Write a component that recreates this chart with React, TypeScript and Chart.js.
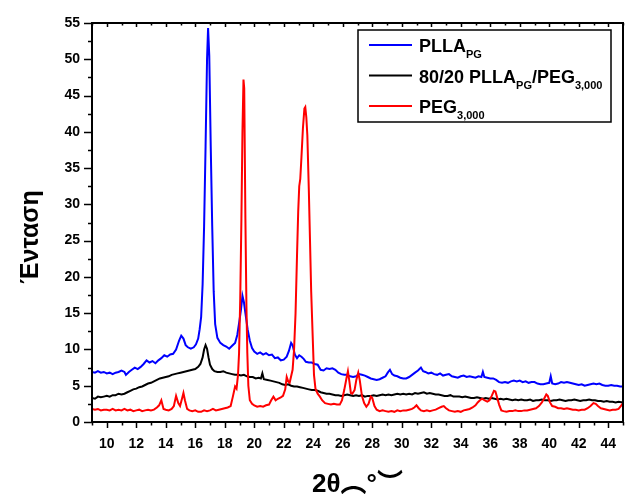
import React, { useEffect, useRef } from "react";
import { Chart, registerables } from "chart.js";

Chart.register(...registerables);

// 2θ range and intensity range of the diffractogram
const THETA_MIN = 9;
const THETA_MAX = 45;
const INTENSITY_MIN = 0;
const INTENSITY_MAX = 55;

// PLLA_PG pattern: [2θ, intensity]
const PLLA_PG: [number, number][] = [
  [9.0, 6.9], [9.2, 6.8], [9.4, 7.0], [9.6, 6.8], [9.8, 6.9], [10.0, 6.7], [10.2, 6.8], [10.4, 6.6],
  [10.6, 6.8], [10.8, 6.9], [11.0, 7.1], [11.2, 6.9], [11.3, 6.5], [11.5, 6.9], [11.7, 7.2], [11.9, 7.5],
  [12.1, 7.3], [12.3, 7.6], [12.5, 8.0], [12.7, 8.5], [12.9, 8.2], [13.1, 8.4], [13.3, 8.1], [13.5, 8.5],
  [13.7, 8.8], [13.9, 9.2], [14.1, 9.0], [14.3, 9.3], [14.5, 9.4], [14.7, 10.0], [14.9, 11.2], [15.05, 11.9],
  [15.2, 11.5], [15.35, 10.6], [15.5, 10.3], [15.7, 10.1], [15.9, 10.3], [16.05, 10.7], [16.2, 11.5],
  [16.3, 12.8], [16.4, 14.5], [16.5, 19.0], [16.6, 27.0], [16.7, 38.0], [16.8, 50.0], [16.87, 54.3],
  [16.95, 50.5], [17.05, 38.0], [17.15, 27.0], [17.25, 18.0], [17.35, 13.5], [17.5, 11.6], [17.7, 10.9],
  [17.9, 10.6], [18.1, 10.4], [18.3, 10.1], [18.5, 10.5], [18.7, 10.9], [18.85, 12.0], [19.0, 14.0],
  [19.1, 15.5], [19.2, 17.4], [19.3, 16.5], [19.4, 15.0], [19.55, 12.8], [19.7, 11.2], [19.85, 10.2],
  [20.0, 9.7], [20.2, 9.4], [20.4, 9.6], [20.6, 9.3], [20.8, 9.5], [21.0, 9.2], [21.2, 9.3], [21.4, 8.8],
  [21.6, 8.9], [21.8, 8.5], [22.0, 8.6], [22.2, 9.0], [22.35, 9.8], [22.5, 10.9], [22.6, 10.6], [22.75, 9.3],
  [22.9, 8.8], [23.05, 9.2], [23.2, 9.0], [23.35, 8.7], [23.5, 8.3], [23.7, 8.2], [23.9, 8.2], [24.1, 8.0],
  [24.3, 7.9], [24.5, 7.2], [24.7, 7.1], [24.9, 7.4], [25.1, 7.3], [25.3, 7.4], [25.5, 7.2], [25.7, 6.8],
  [25.9, 6.6], [26.1, 6.5], [26.3, 6.5], [26.5, 6.3], [26.7, 6.2], [26.9, 6.3], [27.1, 6.6], [27.3, 6.5],
  [27.5, 6.4], [27.7, 6.2], [27.9, 6.0], [28.1, 5.9], [28.3, 5.8], [28.5, 5.9], [28.7, 6.1], [28.9, 6.3],
  [29.05, 6.8], [29.2, 7.2], [29.35, 6.6], [29.5, 6.4], [29.7, 6.3], [29.9, 6.1], [30.1, 6.0], [30.3, 6.0],
  [30.5, 6.2], [30.7, 6.5], [30.9, 6.8], [31.1, 7.1], [31.3, 7.5], [31.45, 7.0], [31.6, 6.9], [31.8, 6.7],
  [32.0, 6.8], [32.2, 6.6], [32.4, 6.5], [32.6, 6.7], [32.8, 6.4], [33.0, 6.5], [33.2, 6.6], [33.4, 6.3],
  [33.6, 6.2], [33.8, 6.1], [34.0, 6.3], [34.2, 6.4], [34.4, 6.2], [34.6, 6.3], [34.8, 6.2], [35.0, 6.1],
  [35.2, 6.3], [35.4, 6.2], [35.5, 6.9], [35.6, 6.2], [35.8, 6.1], [36.0, 6.0], [36.2, 6.0], [36.4, 5.8],
  [36.6, 5.5], [36.8, 5.4], [37.0, 5.5], [37.2, 5.4], [37.4, 5.6], [37.6, 5.7], [37.8, 5.6], [38.0, 5.7],
  [38.2, 5.5], [38.4, 5.6], [38.6, 5.4], [38.8, 5.5], [39.0, 5.5], [39.2, 5.3], [39.4, 5.2], [39.6, 5.2],
  [39.8, 5.3], [40.0, 5.4], [40.1, 6.3], [40.2, 5.3], [40.4, 5.2], [40.6, 5.3], [40.8, 5.5], [41.0, 5.4],
  [41.2, 5.5], [41.4, 5.4], [41.6, 5.3], [41.8, 5.2], [42.0, 5.1], [42.2, 5.2], [42.4, 5.0], [42.6, 5.1],
  [42.8, 5.2], [43.0, 5.3], [43.2, 5.2], [43.4, 5.3], [43.6, 5.1], [43.8, 5.0], [44.0, 5.0], [44.2, 5.1],
  [44.4, 5.0], [44.6, 5.0], [44.8, 4.9], [45.0, 4.9],
];

// 80/20 PLLA_PG/PEG_3,000 blend pattern: [2θ, intensity]
const BLEND_80_20: [number, number][] = [
  [9.0, 3.3], [9.2, 3.2], [9.4, 3.5], [9.6, 3.4], [9.8, 3.5], [10.0, 3.6], [10.2, 3.5], [10.4, 3.7],
  [10.6, 3.7], [10.8, 3.9], [11.0, 3.8], [11.2, 3.9], [11.4, 4.1], [11.6, 4.3], [11.8, 4.5], [12.0, 4.6],
  [12.2, 4.8], [12.4, 4.9], [12.6, 5.1], [12.8, 5.3], [13.0, 5.4], [13.2, 5.6], [13.4, 5.8], [13.6, 6.0],
  [13.8, 6.1], [14.0, 6.2], [14.2, 6.3], [14.4, 6.5], [14.6, 6.6], [14.8, 6.7], [15.0, 6.8], [15.2, 6.9],
  [15.4, 7.0], [15.6, 7.1], [15.8, 7.2], [16.0, 7.3], [16.2, 7.6], [16.35, 8.0], [16.5, 8.9], [16.6, 10.0],
  [16.7, 10.6], [16.8, 10.1], [16.9, 8.9], [17.0, 7.9], [17.15, 7.3], [17.3, 7.0], [17.5, 6.9], [17.7, 6.9],
  [17.9, 7.0], [18.1, 6.8], [18.3, 6.7], [18.5, 6.6], [18.7, 6.5], [18.9, 6.5], [19.1, 6.4], [19.3, 6.5],
  [19.5, 6.3], [19.7, 6.2], [19.9, 6.2], [20.1, 6.0], [20.3, 6.1], [20.45, 6.0], [20.55, 6.7], [20.65, 5.9],
  [20.9, 5.8], [21.1, 5.7], [21.3, 5.6], [21.5, 5.5], [21.7, 5.4], [21.9, 5.2], [22.1, 5.1], [22.3, 5.2],
  [22.5, 5.0], [22.7, 4.9], [22.9, 4.9], [23.1, 4.8], [23.3, 4.7], [23.5, 4.6], [23.7, 4.5], [23.9, 4.4],
  [24.1, 4.4], [24.3, 4.3], [24.5, 4.1], [24.7, 4.0], [24.9, 3.9], [25.1, 3.9], [25.3, 3.8], [25.5, 3.7],
  [25.7, 3.7], [25.9, 3.6], [26.1, 3.7], [26.3, 3.8], [26.5, 3.7], [26.7, 3.6], [26.9, 3.7], [27.1, 3.6],
  [27.3, 3.7], [27.5, 3.5], [27.7, 3.6], [27.9, 3.6], [28.1, 3.7], [28.3, 3.6], [28.5, 3.7], [28.7, 3.8],
  [28.9, 3.7], [29.1, 3.8], [29.3, 3.7], [29.5, 3.8], [29.7, 3.9], [29.9, 3.8], [30.1, 3.9], [30.3, 3.8],
  [30.5, 3.9], [30.7, 3.8], [30.9, 4.0], [31.1, 3.9], [31.3, 4.0], [31.5, 4.1], [31.7, 3.9], [31.9, 4.0],
  [32.1, 3.9], [32.3, 3.8], [32.5, 3.8], [32.7, 3.7], [32.9, 3.6], [33.1, 3.6], [33.3, 3.7], [33.5, 3.5],
  [33.7, 3.5], [33.9, 3.5], [34.1, 3.4], [34.3, 3.5], [34.5, 3.4], [34.7, 3.3], [34.9, 3.3], [35.1, 3.4],
  [35.3, 3.3], [35.5, 3.2], [35.7, 3.3], [35.9, 3.2], [36.1, 3.3], [36.3, 3.2], [36.5, 3.1], [36.7, 3.2],
  [36.9, 3.1], [37.1, 3.2], [37.3, 3.1], [37.5, 3.0], [37.7, 3.1], [37.9, 3.0], [38.1, 3.1], [38.3, 3.0],
  [38.5, 3.0], [38.7, 3.1], [38.9, 2.9], [39.1, 3.0], [39.3, 3.0], [39.5, 3.1], [39.7, 3.0], [39.9, 3.0],
  [40.1, 2.9], [40.3, 3.0], [40.5, 3.0], [40.7, 3.1], [40.9, 3.0], [41.1, 2.9], [41.3, 3.0], [41.5, 3.0],
  [41.7, 3.1], [41.9, 3.0], [42.1, 2.9], [42.3, 3.0], [42.5, 3.0], [42.7, 3.1], [42.9, 3.0], [43.1, 3.0],
  [43.3, 2.9], [43.5, 2.9], [43.7, 2.8], [43.9, 2.9], [44.1, 2.8], [44.3, 2.8], [44.5, 2.7], [44.7, 2.8],
  [45.0, 2.7],
];

// PEG_3,000 pattern: [2θ, intensity]
const PEG_3000: [number, number][] = [
  [9.0, 1.8], [9.2, 1.7], [9.4, 1.8], [9.6, 1.6], [9.8, 1.7], [10.0, 1.7], [10.2, 1.6], [10.4, 1.8],
  [10.6, 1.6], [10.8, 1.7], [11.0, 1.6], [11.2, 1.8], [11.4, 1.6], [11.6, 1.7], [11.8, 1.5], [12.0, 1.6],
  [12.2, 1.7], [12.4, 1.5], [12.6, 1.6], [12.8, 1.7], [13.0, 1.6], [13.2, 1.7], [13.4, 2.0], [13.55, 2.3],
  [13.7, 3.0], [13.85, 1.8], [14.0, 1.7], [14.2, 1.6], [14.4, 1.8], [14.55, 2.2], [14.7, 3.6], [14.85, 2.6],
  [14.97, 2.2], [15.1, 3.2], [15.2, 4.0], [15.3, 3.0], [15.45, 1.8], [15.6, 1.6], [15.8, 1.5], [16.0, 1.6],
  [16.2, 1.4], [16.4, 1.4], [16.6, 1.6], [16.8, 1.5], [17.0, 1.6], [17.2, 1.8], [17.4, 1.6], [17.6, 1.7],
  [17.8, 1.8], [18.0, 1.9], [18.2, 2.0], [18.4, 2.2], [18.55, 3.5], [18.7, 4.9], [18.8, 4.6], [18.9, 6.5],
  [18.97, 9.5], [19.05, 17.0], [19.13, 28.0], [19.2, 40.0], [19.27, 47.2], [19.32, 46.0], [19.4, 28.0],
  [19.47, 16.0], [19.53, 9.5], [19.6, 5.0], [19.7, 3.0], [19.85, 2.5], [20.0, 2.3], [20.2, 2.1], [20.4, 2.2],
  [20.6, 2.1], [20.8, 2.3], [21.0, 2.4], [21.15, 3.0], [21.3, 3.5], [21.45, 3.0], [21.6, 3.2], [21.8, 3.4],
  [21.95, 3.6], [22.1, 4.5], [22.2, 6.2], [22.3, 5.6], [22.4, 5.4], [22.5, 6.3], [22.6, 7.2], [22.7, 10.0],
  [22.8, 15.0], [22.9, 23.0], [22.98, 29.0], [23.05, 32.5], [23.12, 33.5], [23.2, 36.5], [23.3, 40.5],
  [23.4, 43.2], [23.46, 43.4], [23.53, 42.0], [23.6, 39.5], [23.7, 32.0], [23.78, 25.0], [23.86, 18.0],
  [23.95, 12.5], [24.05, 6.5], [24.15, 4.6], [24.3, 3.9], [24.45, 3.5], [24.6, 3.0], [24.8, 2.6], [25.0, 2.5],
  [25.2, 2.4], [25.4, 2.5], [25.6, 2.4], [25.8, 2.4], [25.95, 3.0], [26.1, 4.4], [26.25, 6.0], [26.35, 7.0],
  [26.45, 5.6], [26.55, 4.0], [26.65, 3.9], [26.8, 4.4], [26.92, 5.8], [27.05, 6.8], [27.15, 5.8], [27.3, 3.6],
  [27.45, 2.6], [27.6, 2.1], [27.75, 2.5], [27.9, 3.5], [28.0, 3.3], [28.15, 2.2], [28.3, 1.7], [28.5, 1.5],
  [28.7, 1.6], [28.9, 1.5], [29.1, 1.4], [29.3, 1.5], [29.5, 1.4], [29.7, 1.6], [29.9, 1.5], [30.1, 1.6],
  [30.3, 1.6], [30.5, 1.7], [30.7, 1.8], [30.85, 2.0], [31.0, 2.3], [31.15, 1.9], [31.3, 1.6], [31.5, 1.5],
  [31.7, 1.6], [31.9, 1.5], [32.1, 1.6], [32.3, 1.7], [32.5, 1.9], [32.7, 2.1], [32.85, 2.2], [33.0, 1.9],
  [33.2, 1.6], [33.4, 1.5], [33.6, 1.4], [33.8, 1.5], [34.0, 1.4], [34.2, 1.6], [34.4, 1.7], [34.6, 1.8],
  [34.8, 2.0], [35.0, 2.3], [35.15, 2.7], [35.3, 3.0], [35.45, 3.2], [35.6, 3.0], [35.8, 2.8], [35.95, 3.0],
  [36.1, 3.6], [36.25, 4.3], [36.35, 4.2], [36.45, 3.5], [36.6, 2.4], [36.75, 1.6], [36.9, 1.5], [37.1, 1.4],
  [37.3, 1.5], [37.5, 1.5], [37.7, 1.6], [37.9, 1.5], [38.1, 1.5], [38.3, 1.6], [38.5, 1.6], [38.7, 1.7],
  [38.9, 1.8], [39.1, 1.9], [39.3, 2.2], [39.5, 2.7], [39.65, 3.2], [39.8, 3.8], [39.9, 3.6], [40.05, 2.7],
  [40.2, 2.2], [40.4, 2.1], [40.6, 1.9], [40.8, 1.9], [41.0, 1.8], [41.2, 1.9], [41.4, 1.8], [41.6, 1.7],
  [41.8, 1.7], [42.0, 1.6], [42.2, 1.7], [42.4, 1.7], [42.6, 1.9], [42.8, 2.2], [43.0, 2.6], [43.15, 2.5],
  [43.3, 2.2], [43.5, 1.9], [43.7, 1.8], [43.9, 1.7], [44.1, 1.6], [44.3, 1.7], [44.5, 1.7], [44.7, 1.8],
  [44.85, 2.2], [45.0, 2.6],
];

// Legend entries: text pieces as [text, isSubscript]
const LEGEND_ROWS: { color: string; parts: [string, boolean][] }[] = [
  { color: "#0000ff", parts: [["PLLA", false], ["PG", true]] },
  { color: "#000000", parts: [["80/20 PLLA", false], ["PG", true], ["/PEG", false], ["3,000", true]] },
  { color: "#ff0000", parts: [["PEG", false], ["3,000", true]] },
];

const X_TITLE = "2θ︵°︶";
const Y_TITLE = "Ένταση";

const FONT = '"Liberation Sans", Arial, "Noto Sans CJK SC", sans-serif';

const toPoints = (pts: [number, number][]) => pts.map(([x, y]) => ({ x, y }));

// Frame, tick marks, axis titles and the boxed legend
const decorations = {
  id: "decorations",
  afterDraw(chart: any) {
    const { ctx, chartArea, scales } = chart;
    const { left, right, top, bottom } = chartArea;
    const xs = scales.x;
    const ys = scales.y;
    ctx.save();
    ctx.strokeStyle = "#000";
    ctx.fillStyle = "#000";

    // tick marks
    ctx.lineWidth = 1.5;
    ctx.beginPath();
    for (let v = THETA_MIN; v <= THETA_MAX; v++) {
      const px = Math.round(xs.getPixelForValue(v)) + 0.5;
      const major = v % 2 === 0;
      ctx.moveTo(px, bottom);
      ctx.lineTo(px, bottom + (major ? 6 : 3.5));
      ctx.moveTo(px, top);
      ctx.lineTo(px, top + (major ? 4 : 2.5));
    }
    for (let i = 0; i <= INTENSITY_MAX / 2.5; i++) {
      const py = Math.round(ys.getPixelForValue(i * 2.5)) + 0.5;
      const major = i % 2 === 0;
      ctx.moveTo(left, py);
      ctx.lineTo(left - (major ? 8 : 4), py);
    }
    ctx.stroke();

    // plot frame
    ctx.lineWidth = 2;
    ctx.strokeRect(left, top, right - left, bottom - top);

    // axis titles
    ctx.font = `bold 26px ${FONT}`;
    ctx.textAlign = "center";
    ctx.textBaseline = "alphabetic";
    ctx.fillText(X_TITLE, (left + right) / 2, 492);

    ctx.save();
    ctx.translate(31, 237);
    ctx.rotate(-Math.PI / 2);
    ctx.font = `bold 25px ${FONT}`;
    ctx.textBaseline = "middle";
    ctx.fillText(Y_TITLE, 0, 0);
    ctx.restore();

    // legend box
    const bx = 358, by = 30, bw = 253, bh = 92;
    ctx.fillStyle = "#fff";
    ctx.fillRect(bx, by, bw, bh);
    ctx.lineWidth = 1.5;
    ctx.strokeStyle = "#000";
    ctx.strokeRect(bx, by, bw, bh);
    ctx.textAlign = "left";
    ctx.textBaseline = "alphabetic";
    LEGEND_ROWS.forEach((row, i) => {
      const cy = 45 + i * 30.5;
      ctx.strokeStyle = row.color;
      ctx.lineWidth = 2;
      ctx.beginPath();
      ctx.moveTo(369, cy);
      ctx.lineTo(412, cy);
      ctx.stroke();
      let tx = 419;
      const base = cy + 7;
      ctx.fillStyle = "#000";
      row.parts.forEach(([text, sub]) => {
        ctx.font = sub ? `bold 11px ${FONT}` : `bold 18px ${FONT}`;
        ctx.fillText(text, tx, sub ? base + 6 : base);
        tx += ctx.measureText(text).width;
      });
    });
    ctx.restore();
  },
};

export default function App() {
  const canvasRef = useRef<HTMLCanvasElement | null>(null);

  useEffect(() => {
    if (!canvasRef.current) return;
    const chart = new Chart(canvasRef.current, {
      type: "line",
      data: {
        datasets: [
          {
            label: "PLLA_PG",
            data: toPoints(PLLA_PG),
            borderColor: "#0000ff",
            borderWidth: 2,
            pointRadius: 0,
            order: 3,
          },
          {
            label: "80/20 PLLA_PG/PEG_3,000",
            data: toPoints(BLEND_80_20),
            borderColor: "#000000",
            borderWidth: 2,
            pointRadius: 0,
            order: 2,
          },
          {
            label: "PEG_3,000",
            data: toPoints(PEG_3000),
            borderColor: "#ff0000",
            borderWidth: 2,
            pointRadius: 0,
            order: 1,
          },
        ],
      },
      options: {
        animation: false,
        responsive: false,
        layout: { padding: { top: 23, right: 2, left: 0, bottom: 0 } },
        plugins: { legend: { display: false }, tooltip: { enabled: false } },
        scales: {
          x: {
            type: "linear",
            min: THETA_MIN,
            max: THETA_MAX,
            afterFit: (s: any) => {
              s.height = 72;
              s.paddingLeft = 0;
              s.paddingRight = 0;
            },
            grid: { display: false, drawTicks: false },
            border: { display: false },
            ticks: {
              stepSize: 1,
              autoSkip: false,
              maxRotation: 0,
              padding: 14,
              color: "#000",
              font: { family: FONT, size: 14, weight: "bold" },
              callback: (v: any) => (Number(v) % 2 === 0 ? String(v) : ""),
            },
          },
          y: {
            type: "linear",
            min: INTENSITY_MIN,
            max: INTENSITY_MAX,
            afterFit: (s: any) => {
              s.width = 92;
              s.paddingTop = 0;
              s.paddingBottom = 0;
            },
            grid: { display: false, drawTicks: false },
            border: { display: false },
            ticks: {
              stepSize: 2.5,
              autoSkip: false,
              padding: 12,
              color: "#000",
              font: { family: FONT, size: 14, weight: "bold" },
              callback: (v: any) => (Number(v) % 5 === 0 ? String(v) : ""),
            },
          },
        },
      },
      plugins: [decorations],
    });
    return () => chart.destroy();
  }, []);

  return (
    <div style={{ position: "fixed", left: 0, top: 0, width: 625, height: 494, background: "#fff" }}>
      <canvas ref={canvasRef} width={625} height={494} />
    </div>
  );
}
